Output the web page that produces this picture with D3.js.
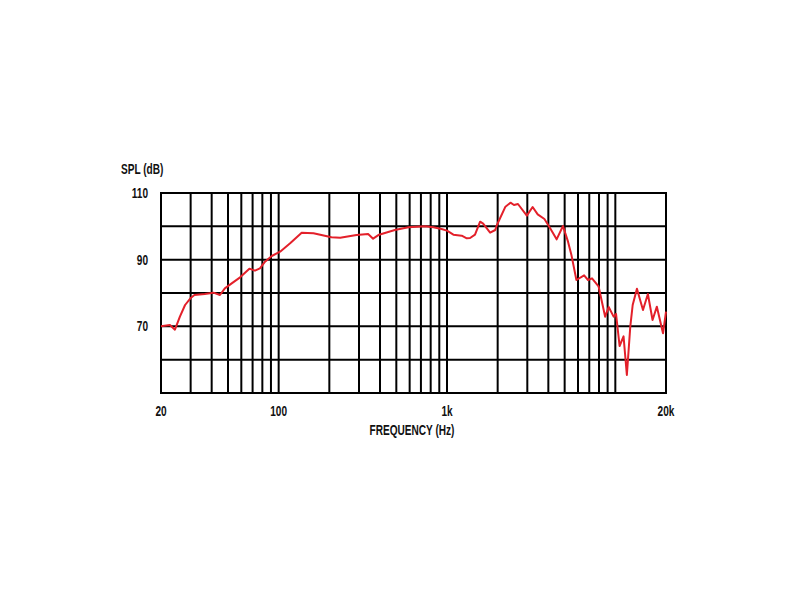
<!DOCTYPE html>
<html>
<head>
<meta charset="utf-8">
<script src="https://cdn.jsdelivr.net/npm/d3@7"></script>
<style>
  body { margin: 0; background: #fff; }
  svg text {
    font-family: "Liberation Sans", Arial, sans-serif;
    font-weight: bold;
    fill: #111;
  }
</style>
</head>
<body>
<svg width="800" height="600"></svg>
<script>
(function(d3) {
    'use strict';

    // response curve
    const freqs = [20, 22.6, 24.2, 25.9, 27.8, 29.9, 31.6, 36.4, 41, 44.8,
        47.9, 52.6, 59, 67, 72.3, 77.4, 83, 91, 102, 117,
        137, 161, 206, 232, 290, 340, 364, 395, 490, 590,
        740, 830, 928, 1000, 1091, 1223, 1311, 1372, 1467, 1573,
        1640, 1804, 1935, 1980, 2224, 2384, 2500, 2640, 2980, 3226,
        3458, 3791, 4060, 4480, 4886, 5236, 5480, 5872, 6524, 6883,
        7270, 7950, 8700, 9130, 9770, 10100, 10600, 11190, 11710, 12270,
        12680, 13440, 14600, 15610, 16640, 17650, 19200, 20000];
    const spl = [70, 70.4, 69, 72.9, 76.4, 78.4, 79.4, 79.7, 80.1, 79.4,
        81.4, 82.9, 84.7, 87.3, 86.7, 87.4, 89.4, 91.1, 92.4, 94.9,
        98.1, 97.9, 96.7, 96.6, 97.4, 97.7, 96.3, 97.5, 98.9, 99.7,
        100, 99.7, 99.2, 98.7, 97.5, 97.2, 96.4, 96.5, 97.5, 101.4,
        100.8, 98.1, 98.9, 100.4, 105.9, 107.1, 106.4, 106.7, 103.2, 105.8,
        103.6, 102.2, 99.8, 96.1, 100.1, 95.4, 91.5, 83.9, 85.3, 83.9,
        84.4, 82, 72.9, 75.8, 72.9, 73.7, 64.1, 67, 55.4, 69.9,
        76.4, 81.3, 74.9, 79.7, 71.9, 75.9, 67.9, 74.4];

    const gridFreqs = [30, 40, 50, 60, 70, 80, 90, 100, 200, 300, 400, 500, 600, 700, 800, 900,
        1000, 2000, 3000, 4000, 5000, 6000, 7000, 8000, 9000, 10000];
    const gridDb = [60, 70, 80, 90, 100];
    const xTicks = [20, 100, 1000, 20000];
    const xTickLabels = ['20', '100', '1k', '20k'];
    const yTicks = [110, 90, 70];

    const svg = d3.select('svg');

    const x = d3.scaleLog().domain([20, 20000]).range([161, 666]);
    const y = d3.scaleLinear().domain([50, 110]).range([393, 193]);

    const grid = svg.append('g')
        .attr('stroke', '#000')
        .attr('stroke-width', 2);

    grid.selectAll('.vline').data(gridFreqs)
        .enter().append('line')
        .attr('class', 'vline')
        .attr('x1', d => x(d)).attr('x2', d => x(d))
        .attr('y1', y(110)).attr('y2', y(50));

    grid.selectAll('.hline').data(gridDb)
        .enter().append('line')
        .attr('class', 'hline')
        .attr('x1', x(20)).attr('x2', x(20000))
        .attr('y1', d => y(d)).attr('y2', d => y(d));

    grid.append('rect')
        .attr('x', x(20)).attr('y', y(110))
        .attr('width', x(20000) - x(20))
        .attr('height', y(50) - y(110))
        .attr('fill', 'none');

    const line = d3.line()
        .x((d, i) => x(freqs[i]))
        .y(d => y(d));

    svg.append('path')
        .datum(spl)
        .attr('d', line)
        .attr('fill', 'none')
        .attr('stroke', '#e3202a')
        .attr('stroke-width', 2)
        .attr('stroke-linejoin', 'round');

    svg.selectAll('.ylab').data(yTicks)
        .enter().append('text')
        .attr('class', 'ylab')
        .attr('x', 148)
        .attr('y', d => y(d))
        .attr('dy', '0.36em')
        .attr('text-anchor', 'end')
        .attr('font-size', 14)
        .text(d => d);

    svg.selectAll('.xlab').data(xTicks)
        .enter().append('text')
        .attr('class', 'xlab')
        .attr('x', d => x(d))
        .attr('y', 416)
        .attr('text-anchor', 'middle')
        .attr('font-size', 14)
        .text((d, i) => xTickLabels[i]);

    svg.append('text')
        .attr('x', 412)
        .attr('y', 435)
        .attr('text-anchor', 'middle')
        .attr('font-size', 14)
        .text('FREQUENCY (Hz)');

    svg.append('text')
        .attr('x', 121)
        .attr('y', 174)
        .attr('font-size', 14)
        .text('SPL (dB)');

    // squeeze the labels into a condensed look
    svg.selectAll('text').each(function() {
        const w = this.getComputedTextLength();
        d3.select(this)
            .attr('textLength', w * 0.72)
            .attr('lengthAdjust', 'spacingAndGlyphs');
    });

}(d3));
</script>
</body>
</html>
